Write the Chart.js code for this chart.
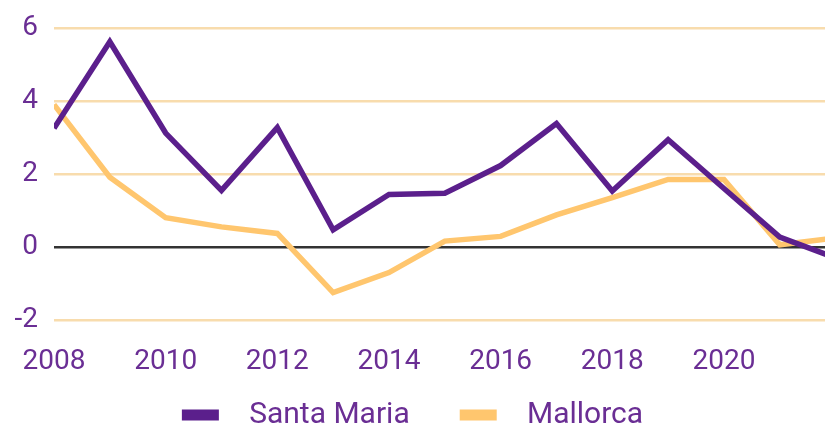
<!DOCTYPE html>
<html>
<head>
<meta charset="utf-8">
<script src="https://cdn.jsdelivr.net/npm/chart.js@4/dist/chart.umd.min.js"></script>
<style>
  html, body { margin: 0; padding: 0; background: #ffffff; overflow: hidden; }
  #wrap { width: 825px; height: 426px; }
</style>
</head>
<body>
<div id="wrap"><canvas id="c" width="825" height="426"></canvas></div>
<script>
const years = [2008, 2009, 2010, 2011, 2012, 2013, 2014, 2015, 2016, 2017, 2018, 2019, 2020, 2021, 2022];
const santaMaria = [3.25, 5.62, 3.12, 1.55, 3.27, 0.47, 1.44, 1.47, 2.23, 3.38, 1.53, 2.94, 1.6, 0.27, -0.3];
const mallorca = [3.9, 1.91, 0.8, 0.55, 0.37, -1.25, -0.7, 0.16, 0.29, 0.88, 1.35, 1.85, 1.85, 0.06, 0.25];
const xTickYears = [2008, 2010, 2012, 2014, 2016, 2018, 2020];
const yTicks = [-2, 0, 2, 4, 6];

const purple = '#5b1f8c';
const orange = '#ffc66e';
const textPurple = '#6a2e94';

const toPoints = (arr) => arr.map((v, i) => ({ x: years[i], y: v }));

const legendSizer = {
  id: 'legendSizer',
  beforeUpdate(chart) {
    const lg = chart.legend;
    if (lg && !lg._patched) {
      const origFit = lg.fit;
      lg.fit = function () { origFit.call(this); this.height = 46; };
      const origDraw = lg.draw;
      lg.draw = function () {
        const t = this.top;
        this.top = t - 30;
        origDraw.call(this);
        this.top = t;
      };
      lg._patched = true;
    }
  }
};

new Chart(document.getElementById('c'), {
  type: 'line',
  plugins: [legendSizer],
  data: {
    datasets: [
      { label: 'Santa Maria', data: toPoints(santaMaria), borderColor: purple, backgroundColor: purple,
        borderWidth: 5.5, pointRadius: 0, tension: 0, borderJoinStyle: 'miter', fill: false },
      { label: 'Mallorca', data: toPoints(mallorca), borderColor: orange, backgroundColor: orange,
        borderWidth: 5.5, pointRadius: 0, tension: 0, borderJoinStyle: 'miter', fill: false }
    ]
  },
  options: {
    responsive: false,
    animation: false,
    devicePixelRatio: 1,
    layout: { padding: { top: 0, right: 0, left: 0, bottom: 0 } },
    plugins: {
      tooltip: { enabled: false },
      legend: {
        position: 'bottom',
        labels: {
          boxWidth: 37, boxHeight: 11, padding: 50,
          color: textPurple,
          font: { family: 'Roboto', size: 30 },
          generateLabels(chart) {
            return chart.data.datasets.map((ds, i) => ({
              text: '\u2002' + ds.label,
              fillStyle: ds.borderColor,
              strokeStyle: ds.borderColor,
              lineWidth: 0,
              hidden: false,
              datasetIndex: i,
              fontColor: textPurple
            }));
          }
        }
      }
    },
    scales: {
      x: {
        type: 'linear',
        min: 2008,
        max: 2021.81,
        grid: { display: false, drawTicks: false },
        border: { display: false },
        afterBuildTicks(scale) { scale.ticks = xTickYears.map(v => ({ value: v })); },
        afterFit(scale) { scale.height = 60; },
        ticks: {
          autoSkip: false, maxRotation: 0, padding: 20,
          color: textPurple,
          font: { family: 'Roboto', size: 28, lineHeight: 1.6 },
          callback: (v) => String(v)
        }
      },
      y: {
        min: -2,
        max: 6,
        afterBuildTicks(scale) { scale.ticks = yTicks.map(v => ({ value: v })); },
        afterFit(scale) { scale.width = 54; },
        grid: {
          drawTicks: false,
          lineWidth: 2.5,
          color: (ctx) => (ctx.tick && ctx.tick.value === 0) ? '#333333' : '#f8dcad'
        },
        border: { display: false },
        ticks: {
          padding: 16,
          color: textPurple,
          font: { family: 'Roboto', size: 28, lineHeight: 0.85 }
        }
      }
    }
  }
});
</script>
</body>
</html>
